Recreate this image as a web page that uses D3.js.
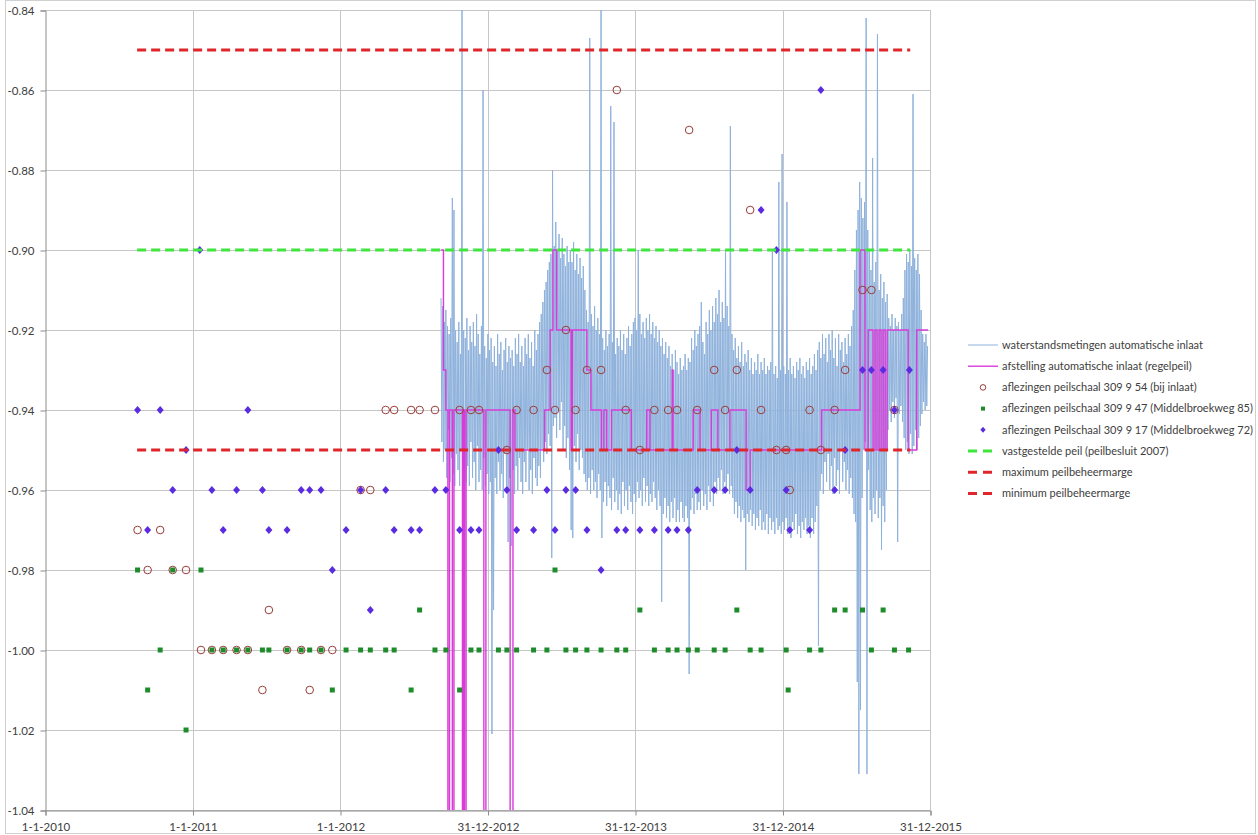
<!DOCTYPE html>
<html><head><meta charset="utf-8">
<script src="https://cdn.jsdelivr.net/npm/d3@7"></script>
<style>
body{margin:0;background:#fff}
text{font-family:Lato,'Open Sans',sans-serif;fill:#404040}
</style>
</head><body>
<svg id="chart" width="1258" height="835"></svg>
<script>
// ---- data (x values are Excel date serials) ----
const xTickValues = [40179, 40544, 40909, 41274, 41639, 42004, 42369];
const xTickLabels = ["1-1-2010","1-1-2011","1-1-2012","31-12-2012","31-12-2013","31-12-2014","31-12-2015"];
const yTickValues = [-1.04,-1.02,-1.00,-0.98,-0.96,-0.94,-0.92,-0.90,-0.88,-0.86,-0.84];
const yTickLabels = ["-1.04","-1.02","-1.00","-0.98","-0.96","-0.94","-0.92","-0.90","-0.88","-0.86","-0.84"];
const seriesNames = [
  "waterstandsmetingen automatische inlaat",
  "afstelling automatische inlaat (regelpeil)",
  "aflezingen peilschaal 309 9 54 (bij inlaat)",
  "aflezingen peilschaal 309 9 47 (Middelbroekweg 85)",
  "aflezingen Peilschaal 309 9 17 (Middelbroekweg 72)",
  "vastgestelde peil (peilbesluit 2007)",
  "maximum peilbeheermarge",
  "minimum peilbeheermarge"
];
// water level readings (alternating high / low extremes), every 2 days from serial 41159
const waterStart = 41159, waterStep = 2;
const waterLevels = [
-.912,-.948,-.914,-.953,-.918,-.950,-.915,-.957,-.919,-.945,-.921,-.958,-.917,-.952,-.887,-.956,-.890,-.959,-.920,-.951,
-.923,-.955,-.918,-.959,-.926,-.950,-.835,-1.050,-.920,-1.045,-.922,-.958,-.917,-.954,-.925,-.959,-.919,-.948,-.923,-.957,
-.918,-.953,-.924,-.960,-.916,-.949,-.921,-.958,-.926,-.955,-.919,-.960,-.860,-.952,-.924,-.959,-.927,-.956,-.921,-.961,
-.925,-.958,-.922,-1.021,-.928,-.990,-.924,-.957,-.929,-.961,-.921,-.953,-.926,-.960,-.923,-.956,-.930,-.962,-.925,-.951,
-.922,-.959,-.928,-.973,-.924,-.957,-.927,-.974,-.925,-.955,-.929,-.961,-.922,-.954,-.926,-.960,-.921,-.952,-.928,-.958,
-.924,-.961,-.929,-.953,-.922,-.958,-.926,-.950,-.921,-.960,-.927,-.955,-.923,-.961,-.929,-.952,-.920,-.957,-.925,-.959,
-.921,-.954,-.918,-.957,-.916,-.950,-.913,-.953,-.910,-.948,-.908,-.951,-.905,-.946,-.903,-.949,-.901,-.977,-.880,-.944,
-.899,-.942,-.893,-.947,-.900,-.940,-.896,-.945,-.902,-.938,-.897,-.950,-.901,-.944,-.904,-.952,-.899,-.947,-.903,-.955,
-.900,-.970,-.903,-.972,-.898,-.949,-.905,-.953,-.901,-.946,-.906,-.955,-.902,-.950,-.907,-.952,-.904,-.956,-.910,-.958,
-.915,-.960,-.918,-.957,-.847,-.961,-.916,-.955,-.919,-.960,-.914,-.958,-.920,-.962,-.917,-.956,-.921,-.960,-.835,-.972,
-.922,-.963,-.925,-.958,-.920,-.964,-.924,-.959,-.921,-.962,-.864,-.965,-.923,-.957,-.868,-.963,-.926,-.960,-.922,-.965,
-.924,-.961,-.920,-.966,-.925,-.958,-.921,-.964,-.926,-.960,-.922,-.965,-.919,-.959,-.924,-.963,-.921,-.966,-.918,-.961,
-.917,-.963,-.920,-.958,-.900,-.962,-.916,-.960,-.921,-.964,-.918,-.957,-.922,-.963,-.917,-.959,-.920,-.964,-.916,-.961,
-.921,-.963,-.918,-.958,-.922,-.962,-.919,-.965,-.923,-.960,-.920,-.964,-.924,-.988,-.922,-.966,-.926,-.962,-.923,-.967,
-.927,-.964,-.924,-.968,-.929,-.963,-.926,-.967,-.930,-.962,-.925,-.968,-.928,-.965,-.931,-.968,-.927,-.963,-.930,-.967,
-.929,-.968,-.926,-.964,-.930,-.967,-.927,-1.006,-.928,-.965,-.922,-.962,-.925,-.966,-.920,-.961,-.924,-.965,-.921,-.963,
-.919,-.965,-.913,-.960,-.923,-.964,-.926,-.961,-.918,-.965,-.921,-.959,-.915,-.963,-.920,-.960,-.914,-.964,-.918,-.958,
-.912,-.961,-.916,-.957,-.910,-.960,-.918,-.955,-.913,-.961,-.917,-.958,-.900,-.960,-.914,-.956,-.919,-.961,-.869,-.959,
-.921,-.962,-.925,-.966,-.922,-.963,-.927,-.967,-.924,-.964,-.928,-.968,-.923,-.965,-.929,-.967,-.926,-.980,-.928,-.966,
-.925,-.968,-.930,-.965,-.927,-.969,-.931,-.966,-.928,-.970,-.930,-.967,-.926,-.969,-.931,-.965,-.928,-.970,-.930,-.968,
-.927,-.970,-.931,-.966,-.929,-.971,-.930,-.967,-.928,-.970,-.900,-.968,-.931,-.971,-.929,-.967,-.932,-.970,-.883,-.969,
-.930,-.971,-.876,-.968,-.929,-.970,-.931,-.967,-.888,-.971,-.930,-.969,-.927,-.972,-.931,-.968,-.929,-.970,-.932,-.966,
-.928,-.971,-.930,-.969,-.927,-.972,-.931,-.968,-.929,-.970,-.932,-.967,-.928,-.971,-.930,-.969,-.927,-.972,-.931,-.967,
-.929,-.971,-.926,-.968,-.930,-.964,-.925,-.999,-.923,-.960,-.927,-.956,-.921,-.961,-.926,-.953,-.922,-.958,-.928,-.951,
-.921,-.960,-.925,-.954,-.920,-.961,-.927,-.952,-.922,-.959,-.929,-.955,-.921,-.961,-.925,-.950,-.923,-.958,-.928,-.953,
-.922,-.960,-.926,-.955,-.921,-.961,-.924,-.957,-.919,-.962,-.915,-.966,-.905,-.968,-.895,-1.008,-.890,-1.031,-.883,-1.015,
-.887,-.962,-.892,-.950,-.888,-.948,-.842,-1.031,-.895,-.955,-.900,-.965,-.905,-.968,-.877,-.962,-.908,-.966,-.903,-.960,
-.846,-.967,-.910,-.962,-.906,-.975,-.912,-.964,-.908,-.968,-.913,-.960,-.911,-.945,-.917,-.940,-.919,-.943,-.916,-.938,
-.920,-.942,-.917,-.937,-.919,-.973,-.918,-.941,-.920,-.939,-.916,-.943,-.912,-.947,-.905,-.950,-.901,-.948,-.903,-.951,
-.900,-.946,-.904,-.951,-.861,-.949,-.902,-.945,-.905,-.950,-.901,-.947,-.906,-.944,-.915,-.941,-.921,-.938,-.923,-.940,
-.921,-.939,-.924
];
// regelpeil setting changes [serial, level]; -1.10 = inlet off (below chart)
const regelpeil = [
[41159,-0.90],[41165,-0.93],[41171,-0.94],[41176,-1.10],[41180,-0.94],[41187,-1.10],[41191,-0.94],
[41212,-1.10],[41215,-0.94],[41217,-1.10],[41221,-0.94],[41265,-1.10],[41270,-0.94],[41330,-1.10],
[41337,-0.94],[41342,-0.95],[41415,-0.94],[41429,-0.92],[41436,-0.90],[41445,-0.92],[41481,-0.95],
[41484,-0.92],[41520,-0.93],[41530,-0.94],[41556,-0.95],[41562,-0.94],[41569,-0.95],[41581,-0.94],
[41630,-0.95],[41668,-0.94],[41676,-0.95],[41731,-0.93],[41733,-0.95],[41783,-0.94],[41800,-0.95],
[41828,-0.94],[41844,-0.95],[41874,-0.94],[41914,-0.96],[41924,-0.95],[42101,-0.94],[42196,-0.90],
[42208,-0.95],[42216,-0.92],[42228,-0.95],[42233,-0.92],[42238,-0.95],[42243,-0.92],[42248,-0.95],
[42253,-0.92],[42258,-0.95],[42263,-0.92],[42315,-0.95],[42336,-0.92],[42364,-0.92]
];
const peilschaal54 = [
[40408,-0.97],[40433,-0.98],[40464,-0.97],[40495,-0.98],[40528,-0.98],[40565,-1.00],[40592,-1.00],
[40620,-1.00],[40653,-1.00],[40681,-1.00],[40717,-1.01],[40733,-0.99],[40778,-1.00],[40813,-1.00],
[40834,-1.01],[40862,-1.00],[40890,-1.00],[40960,-0.96],[40984,-0.96],[41022,-0.94],[41043,-0.94],
[41085,-0.94],[41106,-0.94],[41144,-0.94],[41205,-0.94],[41233,-0.94],[41253,-0.94],[41322,-0.95],
[41346,-0.94],[41388,-0.94],[41421,-0.93],[41441,-0.94],[41468,-0.92],[41492,-0.94],[41520,-0.93],
[41555,-0.93],[41594,-0.86],[41616,-0.94],[41651,-0.95],[41687,-0.94],[41721,-0.94],[41743,-0.94],
[41773,-0.87],[41793,-0.94],[41835,-0.93],[41862,-0.94],[41891,-0.93],[41924,-0.89],[41951,-0.94],
[41989,-0.95],[42013,-0.95],[42022,-0.96],[42071,-0.94],[42099,-0.95],[42133,-0.94],[42159,-0.93],
[42202,-0.91],[42224,-0.91],[42281,-0.94]
];
const peilschaal47 = [
[40408,-0.98],[40495,-0.98],[40565,-0.98],[41441,-0.98],
[41106,-0.99],[41651,-0.99],[41891,-0.99],[42133,-0.99],[42159,-0.99],[42202,-0.99],[42253,-0.99],
[40464,-1.00],[40592,-1.00],[40620,-1.00],[40653,-1.00],[40681,-1.00],[40717,-1.00],[40733,-1.00],
[40778,-1.00],[40813,-1.00],[40834,-1.00],[40862,-1.00],[40924,-1.00],[40960,-1.00],[40984,-1.00],
[41022,-1.00],[41043,-1.00],[41144,-1.00],[41171,-1.00],[41233,-1.00],[41253,-1.00],[41301,-1.00],
[41322,-1.00],[41346,-1.00],[41388,-1.00],[41421,-1.00],[41468,-1.00],[41492,-1.00],[41520,-1.00],
[41555,-1.00],[41594,-1.00],[41616,-1.00],[41687,-1.00],[41721,-1.00],[41743,-1.00],[41771,-1.00],
[41793,-1.00],[41835,-1.00],[41862,-1.00],[41924,-1.00],[41951,-1.00],[42013,-1.00],[42071,-1.00],
[42099,-1.00],[42224,-1.00],[42281,-1.00],[42316,-1.00],
[40433,-1.01],[40890,-1.01],[41085,-1.01],[41205,-1.01],[42018,-1.01],
[40528,-1.02]
];
const peilschaal17 = [
[42099,-0.86],[41951,-0.89],[40562,-0.90],[41989,-0.90],
[42202,-0.93],[42224,-0.93],[42253,-0.93],[42318,-0.93],
[40408,-0.94],[40464,-0.94],[40681,-0.94],[42281,-0.94],
[40528,-0.95],[41301,-0.95],[41891,-0.95],[42159,-0.95],
[40495,-0.96],[40592,-0.96],[40653,-0.96],[40717,-0.96],[40813,-0.96],[40834,-0.96],[40862,-0.96],
[40960,-0.96],[41022,-0.96],[41144,-0.96],[41171,-0.96],[41322,-0.96],[41421,-0.96],[41468,-0.96],
[41492,-0.96],[41793,-0.96],[41835,-0.96],[41862,-0.96],[41924,-0.96],[42013,-0.96],[42133,-0.96],
[40433,-0.97],[40620,-0.97],[40733,-0.97],[40778,-0.97],[40924,-0.97],[41043,-0.97],[41085,-0.97],
[41106,-0.97],[41205,-0.97],[41233,-0.97],[41253,-0.97],[41346,-0.97],[41388,-0.97],[41441,-0.97],
[41520,-0.97],[41594,-0.97],[41616,-0.97],[41651,-0.97],[41687,-0.97],[41721,-0.97],[41743,-0.97],
[41771,-0.97],[42022,-0.97],[42071,-0.97],
[40890,-0.98],[41555,-0.98],[40984,-0.99]
];
const vastgesteldPeil = [[40407,-0.90],[42320,-0.90]];
const maxMarge = [[40407,-0.85],[42320,-0.85]];
const minMarge = [[40407,-0.95],[42320,-0.95]];

// ---- drawing ----
const W = 1258, H = 835;
const plot = {l:45, r:930, t:10, b:810};
const svg = d3.select("#chart");
const x = d3.scaleLinear().domain([40179, 42369]).range([plot.l, plot.r]);
const y = d3.scaleLinear().domain([-1.04, -0.84]).range([plot.b, plot.t]);

// chart area border
svg.append("rect").attr("x",5.5).attr("y",0.5).attr("width",W-8).attr("height",H-2)
  .attr("fill","none").attr("stroke","#d0d0d0");

svg.append("defs").append("clipPath").attr("id","clip")
  .append("rect").attr("x",plot.l).attr("y",plot.t).attr("width",plot.r-plot.l).attr("height",plot.b-plot.t);

// gridlines
const grid = svg.append("g");
grid.selectAll(".hg").data(yTickValues).join("line")
  .attr("x1",plot.l).attr("x2",plot.r)
  .attr("y1",d=>Math.round(y(d))+0.5).attr("y2",d=>Math.round(y(d))+0.5)
  .attr("stroke","#c6c6c6");
grid.selectAll(".vg").data(xTickValues.slice(1)).join("line")
  .attr("x1",d=>Math.round(x(d))+0.5).attr("x2",d=>Math.round(x(d))+0.5)
  .attr("y1",plot.t).attr("y2",plot.b)
  .attr("stroke","#c6c6c6");

// axes
const yAxis = d3.axisLeft(y).tickValues(yTickValues).tickSize(5).tickPadding(6)
  .tickFormat((d,i)=>yTickLabels[i]);
const gy = svg.append("g").attr("transform",`translate(${plot.l+0.5},0.5)`).call(yAxis);
const xAxis = d3.axisBottom(x).tickValues(xTickValues).tickSize(5).tickPadding(7)
  .tickFormat((d,i)=>xTickLabels[i]);
const gx = svg.append("g").attr("transform",`translate(0.5,${plot.b+0.5})`).call(xAxis);
[gx,gy].forEach(g=>{
  g.select(".domain").attr("stroke","#8c8c8c");
  g.selectAll(".tick line").attr("stroke","#8c8c8c");
  g.selectAll(".tick text").attr("font-size","11.5px").attr("fill","#404040")
    .style("font-family","Lato,'Open Sans',sans-serif");
});

const data = svg.append("g").attr("clip-path","url(#clip)");
const line = d3.line().x(d=>x(d[0])).y(d=>y(d[1]));

// water level series
const waterPts = waterLevels.map((v,i)=>[waterStart + i*waterStep, v]);
data.append("path").datum(waterPts).attr("d",line)
  .attr("fill","none").attr("stroke","#8fb2dc").attr("stroke-width",1);

// regelpeil step line
data.append("path").datum(regelpeil).attr("d",d3.line().x(d=>x(d[0])).y(d=>y(d[1])).curve(d3.curveStepAfter))
  .attr("fill","none").attr("stroke","#d93bd9").attr("stroke-width",1.4);

// markers
const diamond = "M0,-4L3.5,0L0,4L-3.5,0Z";
data.selectAll(".c54").data(peilschaal54).join("circle")
  .attr("cx",d=>x(d[0])).attr("cy",d=>y(d[1])).attr("r",3.8)
  .attr("fill","none").attr("stroke","#9b3d3a").attr("stroke-width",1);
data.selectAll(".s47").data(peilschaal47).join("rect")
  .attr("x",d=>x(d[0])-2.5).attr("y",d=>y(d[1])-2.5).attr("width",5).attr("height",5)
  .attr("fill","#1e8c2a");
data.selectAll(".d17").data(peilschaal17).join("path")
  .attr("transform",d=>`translate(${x(d[0])},${y(d[1])})`).attr("d",diamond)
  .attr("fill","#5a2be0");

// reference lines
const refs = [[vastgesteldPeil,"#3ee63e"],[maxMarge,"#e0262a"],[minMarge,"#e0262a"]];
refs.forEach(([arr,col])=>{
  data.append("path").datum(arr).attr("d",line).attr("fill","none")
    .attr("stroke",col).attr("stroke-width",3).attr("stroke-dasharray","9,5");
});

// legend
const leg = svg.append("g");
const ly0 = 345, ldy = 21.2, lx1 = 968, lx2 = 998, ltx = 1002;
const legendStyles = [
  {type:"line", col:"#8fb2dc", w:1},
  {type:"line", col:"#d93bd9", w:1.4},
  {type:"circle"},
  {type:"square"},
  {type:"diamond"},
  {type:"dash", col:"#3ee63e"},
  {type:"dash", col:"#e0262a"},
  {type:"dash", col:"#e0262a"}
];
seriesNames.forEach((name,i)=>{
  const yy = ly0 + i*ldy, s = legendStyles[i], cx = (lx1+lx2)/2;
  if (s.type==="line") leg.append("line").attr("x1",lx1).attr("x2",lx2).attr("y1",yy).attr("y2",yy)
      .attr("stroke",s.col).attr("stroke-width",s.w);
  if (s.type==="dash") leg.append("line").attr("x1",lx1).attr("x2",lx2-5).attr("y1",yy).attr("y2",yy)
      .attr("stroke",s.col).attr("stroke-width",3).attr("stroke-dasharray","9,6");
  if (s.type==="circle") leg.append("circle").attr("cx",cx).attr("cy",yy).attr("r",2.8)
      .attr("fill","none").attr("stroke","#9b3d3a");
  if (s.type==="square") leg.append("rect").attr("x",cx-2).attr("y",yy-2).attr("width",4).attr("height",4)
      .attr("fill","#1e8c2a");
  if (s.type==="diamond") leg.append("path").attr("transform",`translate(${cx},${yy}) scale(0.75)`)
      .attr("d",diamond).attr("fill","#5a2be0");
  leg.append("text").attr("x",ltx).attr("y",yy).attr("dy","0.35em")
    .attr("font-size","11px").text(name);
});
</script>
</body></html>
